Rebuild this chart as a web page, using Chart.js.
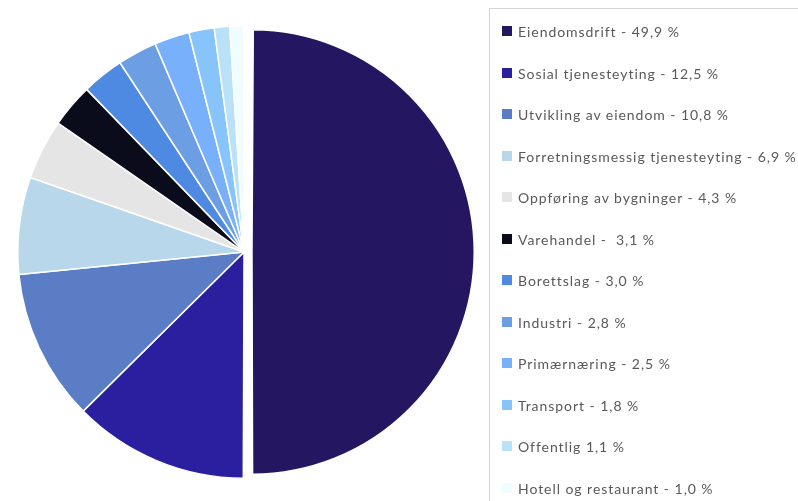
<!DOCTYPE html>
<html>
<head>
<meta charset="utf-8">
<script src="https://cdn.jsdelivr.net/npm/chart.js@4"></script>
<style>
    html, body { margin: 0; padding: 0; background: #fff; }
    #wrap { position: relative; width: 798px; height: 501px; overflow: hidden; }
    #pie-box { position: absolute; left: 0; top: 0; width: 490px; height: 501px; }
    #legend {
        position: absolute; left: 489px; top: 8px; width: 320px; height: 520px;
        border: 1.5px solid #d4d4d4; box-sizing: border-box;
        font-family: Lato, "Open Sans", sans-serif; font-size: 14px; color: #595959;
    }
    #legend ul { list-style: none; margin: 0; padding: 0; }
    #legend li { position: absolute; left: 12px; height: 16px; line-height: 16px; white-space: pre; letter-spacing: 0.95px; }
    #legend li span.sw { position: absolute; left: 0; top: 2px; width: 10px; height: 10px; }
    #legend li span.tx { position: absolute; left: 16px; top: 0; }
</style>
</head>
<body>
<div id="wrap">
    <div id="pie-box"><canvas id="pieChart"></canvas></div>
    <div id="legend"><ul id="legend-list"></ul></div>
</div>
<script>
const labels = [
    'Eiendomsdrift - 49,9 %',
    'Sosial tjenesteyting - 12,5 %',
    'Utvikling av eiendom - 10,8 %',
    'Forretningsmessig tjenesteyting - 6,9 %',
    'Oppføring av bygninger - 4,3 %',
    'Varehandel -  3,1 %',
    'Borettslag - 3,0 %',
    'Industri - 2,8 %',
    'Primærnæring - 2,5 %',
    'Transport - 1,8 %',
    'Offentlig 1,1 %',
    'Hotell og restaurant - 1,0 %'
];
const shares = [49.9, 12.5, 10.8, 6.9, 4.3, 3.1, 3.0, 2.8, 2.5, 1.8, 1.1, 1.0];
const colors = [
    '#241660', '#2a1f9e', '#5a7dc5', '#b8d7ea', '#e5e5e5', '#0a0c1c',
    '#4f8ae2', '#6b9ee2', '#78b0fb', '#86c4fb', '#b9e2f9', '#effdff'
];
// the first slice is pulled out a little
const offsets = [32, 0, 0, 0, 0, 0, 0, 0, 0, 0, 0, 0];

// chart.js grows an offset half-circle by offset/4, the original does not
const shrinkExploded = {
    id: 'shrinkExploded',
    afterDatasetsUpdate(chart) {
        const arc = chart.getDatasetMeta(0).data[0];
        if (arc) arc.outerRadius -= 12;
    }
};

const htmlLegend = {
    id: 'htmlLegend',
    afterUpdate(chart) {
        const list = document.getElementById('legend-list');
        list.innerHTML = '';
        const items = chart.options.plugins.legend.labels.generateLabels(chart);
        items.forEach((item, i) => {
            const li = document.createElement('li');
            li.style.top = (15 + i * 41.5) + 'px';
            const sw = document.createElement('span');
            sw.className = 'sw';
            sw.style.background = item.fillStyle;
            const tx = document.createElement('span');
            tx.className = 'tx';
            tx.textContent = item.text;
            li.appendChild(sw);
            li.appendChild(tx);
            list.appendChild(li);
        });
    }
};

new Chart(document.getElementById('pieChart').getContext('2d'), {
    type: 'pie',
    data: {
        labels: labels,
        datasets: [{
            data: shares,
            backgroundColor: colors,
            borderColor: '#ffffff',
            borderWidth: 1.5,
            offset: offsets
        }]
    },
    options: {
        responsive: true,
        maintainAspectRatio: false,
        animation: false,
        layout: {
            padding: { left: 1, right: 3, top: 9, bottom: 6 }
        },
        plugins: {
            legend: { display: false },
            tooltip: { enabled: false }
        }
    },
    plugins: [shrinkExploded, htmlLegend]
});
</script>
</body>
</html>
